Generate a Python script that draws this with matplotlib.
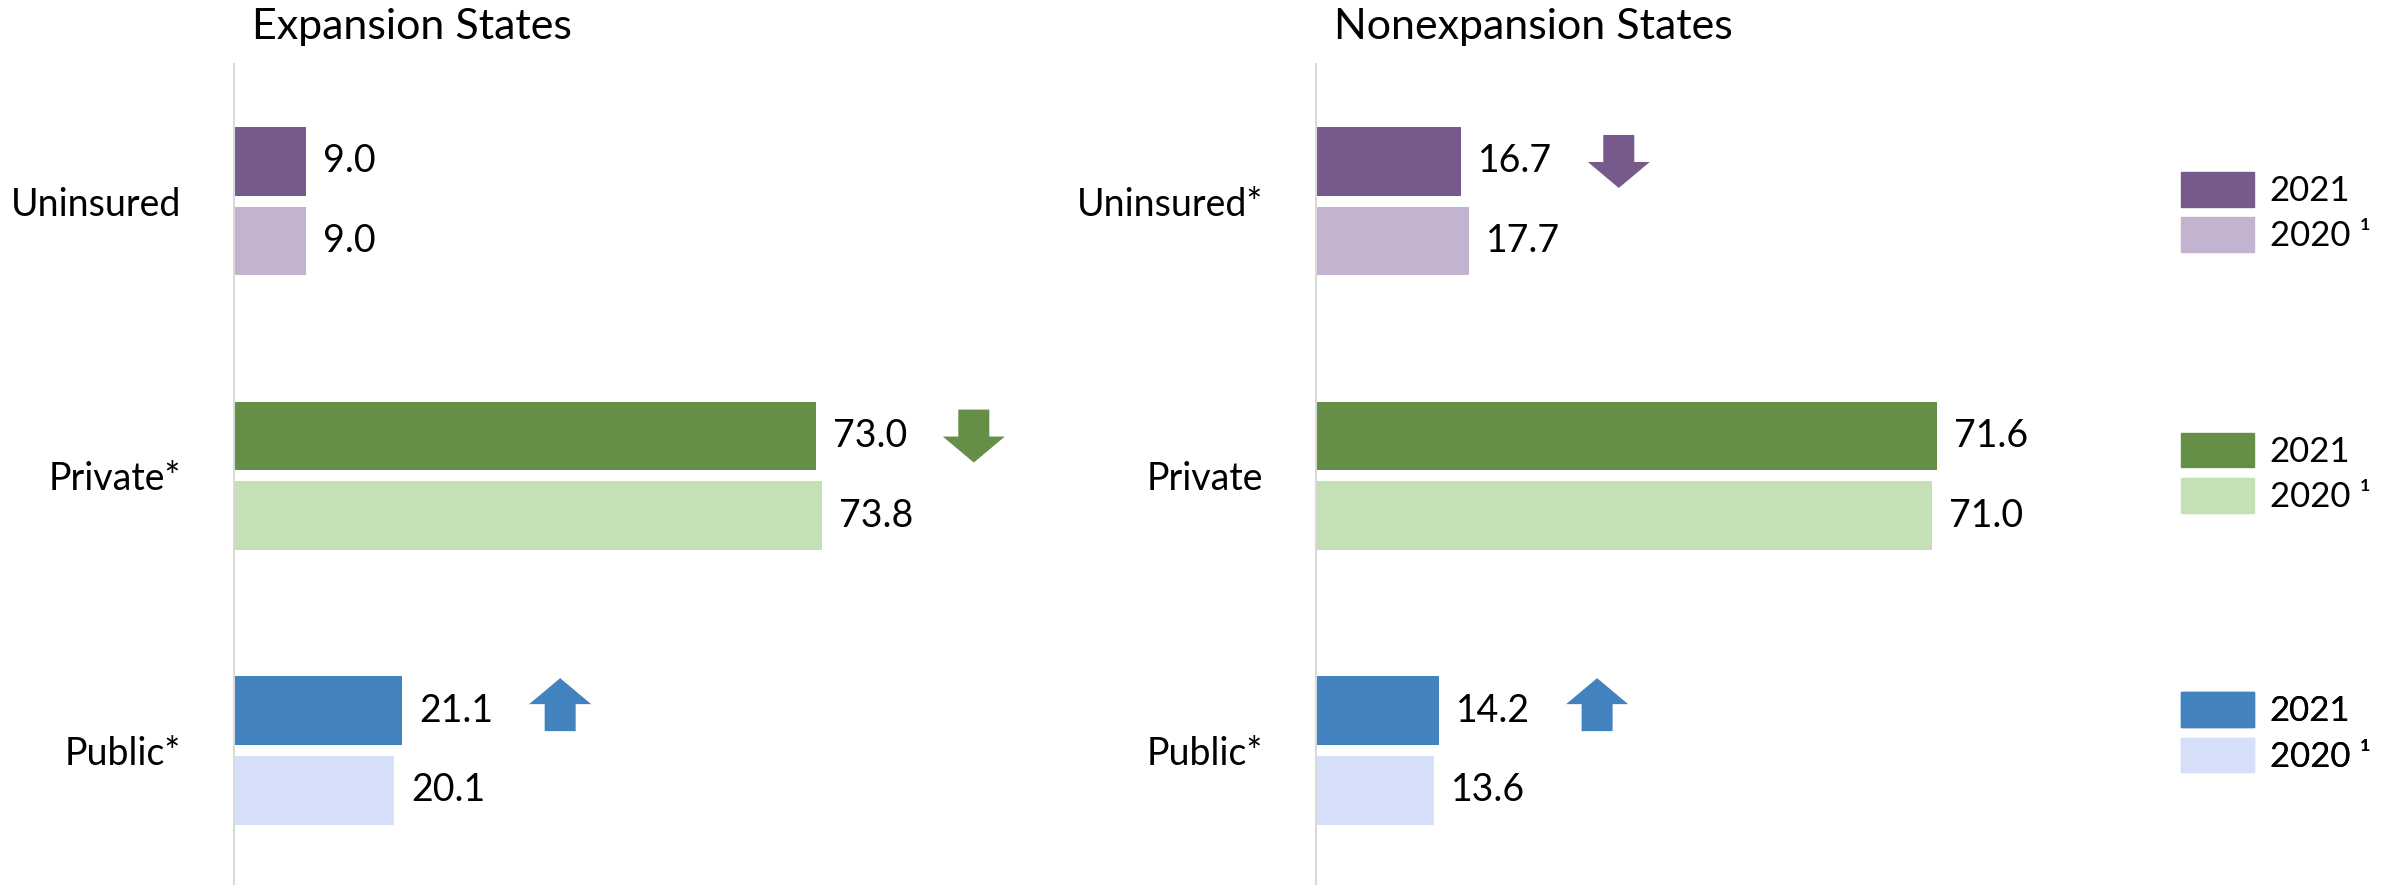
import numpy as np
import matplotlib
matplotlib.use("Agg")
import matplotlib.pyplot as plt
from matplotlib.patches import Polygon, Patch
from matplotlib.transforms import blended_transform_factory

plt.rcParams['font.family'] = ['Lato', 'DejaVu Sans']

# ---------------------------------
# Data
# ---------------------------------
panel_titles = ["Expansion States", "Nonexpansion States"]
left_labels = ["Uninsured", "Private*", "Public*"]
right_labels = ["Uninsured*", "Private", "Public*"]

left_2021 = [9.0, 73.0, 21.1]
left_2020 = [9.0, 73.8, 20.1]
right_2021 = [16.7, 71.6, 14.2]
right_2020 = [17.7, 71.0, 13.6]

# -1 = significant decrease, 1 = significant increase, 0 = none
left_change = [0, -1, 1]
right_change = [-1, 0, 1]

year_labels = ["2021", "2020 \u00b9"]

dark_colors = ["#775A8C", "#658F47", "#4282BE"]
light_colors = ["#C3B3CF", "#C5E0B4", "#D5DFF7"]

# ---------------------------------
# Figure
# ---------------------------------
W, H = 2394, 885
fig = plt.figure(figsize=(W / 100, H / 100), dpi=100)

ax_w = 800
top = 1 - 64 / H
ax1 = fig.add_axes([234 / W, 0, ax_w / W, top])
ax2 = fig.add_axes([1316 / W, 0, ax_w / W, top])

FS = 27
bar_h = 0.25
off = 0.145


def draw_panel(ax, title, labels, v21, v20, change, xmax):
    y = np.arange(len(labels))
    ax.barh(y - off, v21, height=bar_h, color=dark_colors)
    ax.barh(y + off, v20, height=bar_h, color=light_colors)
    ax.set_xlim(0, xmax)
    ax.set_ylim(2.49, -0.5)

    for s in ["top", "right", "bottom"]:
        ax.spines[s].set_visible(False)
    ax.spines["left"].set_color("#D9D9D9")
    ax.spines["left"].set_linewidth(1.5)
    ax.set_xticks([])
    ax.set_yticks(y)
    ax.set_yticklabels(labels, fontsize=FS)
    ax.tick_params(axis="y", length=0, pad=38)

    ax.text(0.022, 1.0 + 37 / (H * top), title, transform=ax.transAxes,
            fontsize=FS + 4, ha="left", va="center")

    # value labels
    px_x = ax_w / xmax
    for yi, a, b in zip(y, v21, v20):
        ax.text(a + 17 / px_x, yi - off, f"{a:.1f}", fontsize=FS, va="center", ha="left")
        ax.text(b + 17 / px_x, yi + off, f"{b:.1f}", fontsize=FS, va="center", ha="left")

    # change arrows (sizes in pixels, converted to data units)
    px_y = (H * top) / 2.99
    hw, sw, th, hh = 62 / px_x, 31 / px_x, 53 / px_y, 26 / px_y
    for yi, a, b, d, c in zip(y, v21, v20, change, dark_colors):
        if d == 0:
            continue
        cx = a + 158 / px_x
        cy = yi - off - (6 / px_y if d > 0 else 0)
        # tip toward direction d (axis inverted, so screen-up is smaller y)
        tip = cy - d * th / 2
        base = cy + d * th / 2
        neck = tip + d * hh
        pts = [(cx, tip), (cx + hw / 2, neck), (cx + sw / 2, neck),
               (cx + sw / 2, base), (cx - sw / 2, base), (cx - sw / 2, neck),
               (cx - hw / 2, neck)]
        ax.add_patch(Polygon(pts, closed=True, color=c, lw=0))


draw_panel(ax1, panel_titles[0], left_labels, left_2021, left_2020, left_change, ax_w / 7.97)
draw_panel(ax2, panel_titles[1], right_labels, right_2021, right_2020, right_change, ax_w / 8.67)

# ---------------------------------
# Legends, one per category row
# ---------------------------------
trans = blended_transform_factory(fig.transFigure, ax2.transData)
legend_y = [0.04, -0.01, -0.065]
for i in range(3):
    handles = [Patch(color=dark_colors[i]), Patch(color=light_colors[i])]
    leg = ax2.legend(handles, year_labels, loc="center left",
                     bbox_to_anchor=(2181 / W, i + legend_y[i]), bbox_transform=trans,
                     frameon=False, fontsize=FS - 2, handlelength=2.1, handleheight=1.15,
                     handletextpad=0.45, labelspacing=0.3, borderpad=0, borderaxespad=0)
    ax2.add_artist(leg)

fig.savefig("out.png", dpi=100)
